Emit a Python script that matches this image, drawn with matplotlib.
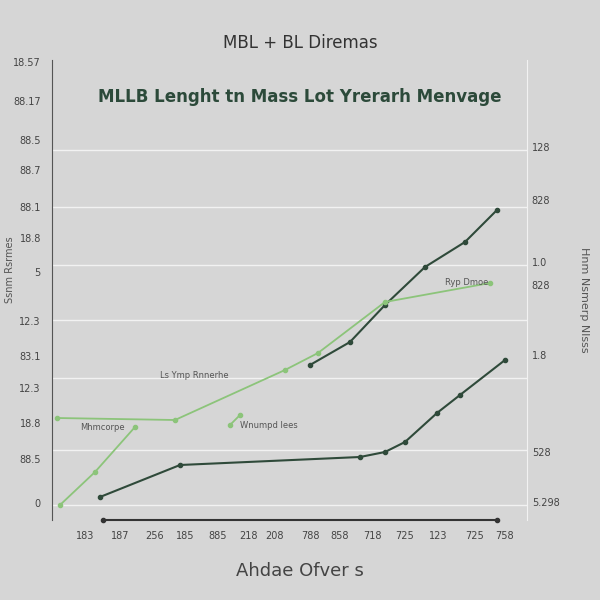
import matplotlib
matplotlib.use("Agg")
import matplotlib.pyplot as plt

# data (in chart units)
dark_low_x = [100, 180, 360, 385, 405, 437, 460, 505]
dark_low_y = [103, 135, 143, 148, 158, 187, 205, 240]
dark_up_x = [310, 350, 385, 425, 465, 497]
dark_up_y = [235, 258, 295, 333, 358, 390]
green_a_x = [57, 175, 285, 318, 385, 490]
green_a_y = [182, 180, 230, 247, 298, 317]
green_b_x = [60, 95, 135]
green_b_y = [95, 128, 173]
green_c_x = [230, 240]
green_c_y = [175, 185]
base_x = [103, 497]
base_y = [80, 80]

left_ticks = [538, 499, 460, 430, 393, 362, 328, 279, 244, 212, 177, 141, 97]
left_labels = ["18.57", "88.17", "88.5", "88.7", "88.1", "18.8", "5", "12.3", "83.1", "12.3", "18.8", "88.5", "0"]
right_ticks = [453, 400, 338, 315, 245, 148, 98]
right_labels = ["128", "828", "1.0", "828", "1.8", "528", "5.298"]
x_ticks = [85, 120, 155, 185, 218, 248, 275, 310, 340, 372, 405, 438, 475, 505]
x_labels = ["183", "187", "256", "185", "885", "218", "208", "788", "858", "718", "725", "123", "725", "758"]
grid_y = [450, 393, 335, 280, 222, 150, 95]

fig = plt.figure(figsize=(6, 6), dpi=100, facecolor="#d6d6d6")
ax = fig.add_axes([52/600, 80/600, 475/600, 460/600])
ax.set_facecolor("#d6d6d6")
ax.set_xlim(52, 527)
ax.set_ylim(80, 540)
for g in grid_y:
    ax.axhline(g, color="#f2f2f2", lw=1)
ax.plot(dark_low_x, dark_low_y, color="#2f4a3a", lw=1.5, marker="o", ms=3)
ax.plot(dark_up_x, dark_up_y, color="#2f4a3a", lw=1.5, marker="o", ms=3)
ax.plot(green_a_x, green_a_y, color="#8cc47a", lw=1.3, marker="o", ms=3)
ax.plot(green_b_x, green_b_y, color="#8cc47a", lw=1.3, marker="o", ms=3)
ax.plot(green_c_x, green_c_y, color="#8cc47a", lw=1.3, marker="o", ms=3)
ax.plot(base_x, base_y, color="#333333", lw=1.5, marker="o", ms=3, clip_on=False)
for s in ["top", "bottom"]:
    ax.spines[s].set_visible(False)
ax.spines["left"].set_color("#555555")
ax.spines["right"].set_color("#f2f2f2")
ax.set_yticks(left_ticks)
ax.set_yticklabels(left_labels, fontsize=7, color="#444444")
ax.set_xticks(x_ticks)
ax.set_xticklabels(x_labels, fontsize=7, color="#444444")
ax.tick_params(length=0, pad=8)
ax2 = ax.twinx()
ax2.set_ylim(80, 540)
ax2.set_yticks(right_ticks)
ax2.set_yticklabels(right_labels, fontsize=7, color="#444444")
ax2.tick_params(length=0)
for s in ax2.spines.values():
    s.set_visible(False)
ax.text(160, 222, "Ls Ymp Rnnerhe", fontsize=6, color="#555555")
ax.text(80, 170, "Mhmcorpe", fontsize=6, color="#555555")
ax.text(240, 172, "Wnumpd lees", fontsize=6, color="#555555")
ax.text(445, 315, "Ryp Dmoe", fontsize=6, color="#555555")
fig.text(0.5, 0.92, "MBL + BL Diremas", ha="center", fontsize=12, color="#333333")
fig.text(0.5, 0.83, "MLLB Lenght tn Mass Lot Yrerarh Menvage", ha="center",
         fontsize=12, color="#2c4a3a", fontweight="bold")
fig.text(0.5, 0.04, "Ahdae Ofver s", ha="center", fontsize=13, color="#444444")
fig.text(0.008, 0.55, "Ssnm Rsrmes", rotation=90, va="center", fontsize=7, color="#555555")
fig.text(0.965, 0.5, "Hnm Nsmerp Nlsss", rotation=-90, va="center", fontsize=8, color="#555555")
fig.savefig("out.png", dpi=100, facecolor=fig.get_facecolor())
